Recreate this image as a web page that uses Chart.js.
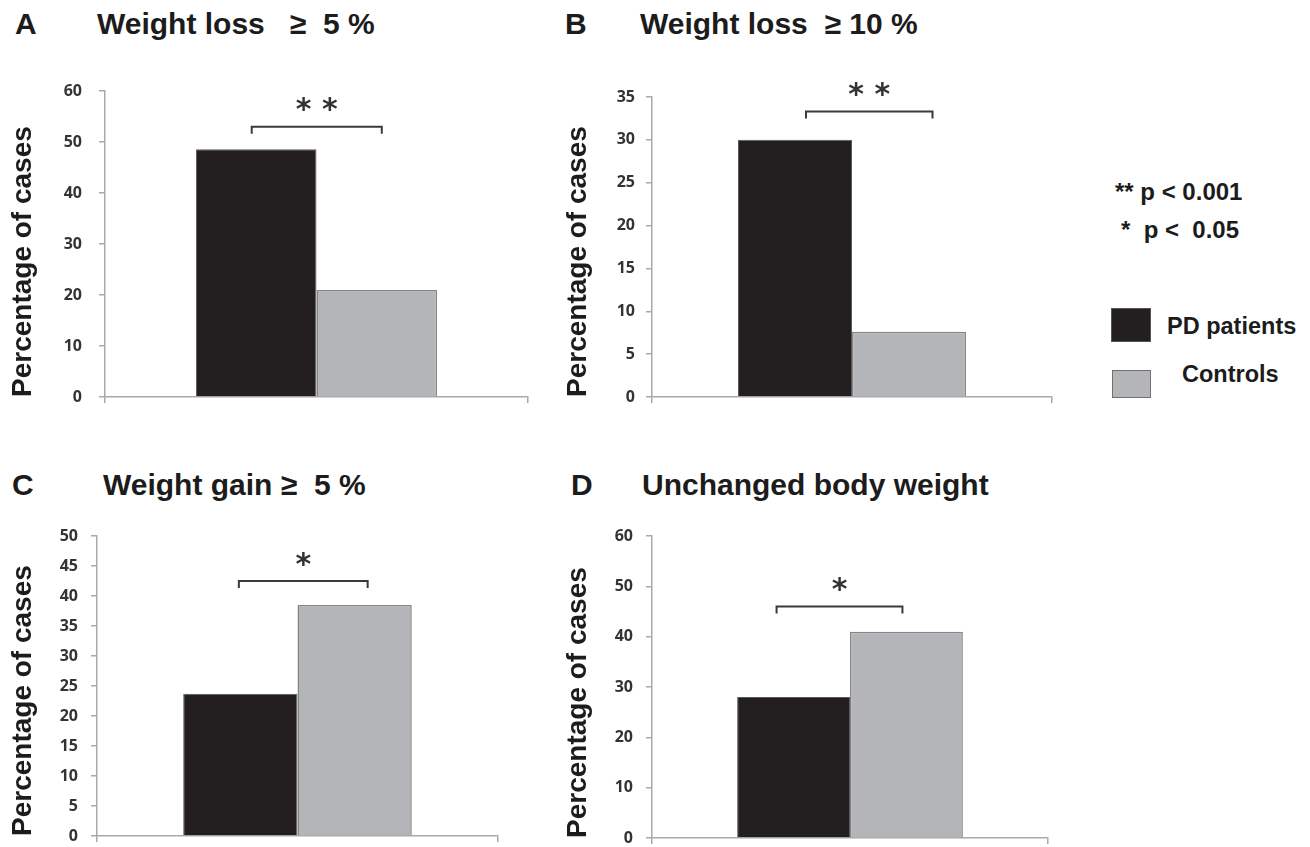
<!DOCTYPE html>
<html>
<head>
<meta charset="utf-8">
<script src="https://cdn.jsdelivr.net/npm/chart.js@4.4.1/dist/chart.umd.min.js"></script>
<style>
  body { margin: 0; background: #fff; width: 1310px; height: 847px; overflow: hidden; position: relative; }
  canvas { position: absolute; }
  .txt { position: absolute; white-space: pre; font-family: "Liberation Sans", Arial, sans-serif; font-weight: bold; color: #1c1c1c; line-height: 1; }
  .box { position: absolute; box-sizing: border-box; }
</style>
</head>
<body>

<div class="txt" style="left:15px;top:9px;font-size:30px">A</div>
<div class="txt" id="t0" style="left:97px;top:9px;font-size:30px"></div>
<div class="txt" style="left:565px;top:9px;font-size:30px">B</div>
<div class="txt" id="t1" style="left:640px;top:9px;font-size:30px"></div>
<div class="txt" style="left:12px;top:470px;font-size:30px">C</div>
<div class="txt" id="t2" style="left:103px;top:470px;font-size:30px"></div>
<div class="txt" style="left:571px;top:470px;font-size:30px">D</div>
<div class="txt" id="t3" style="left:642px;top:470px;font-size:30px"></div>

<div class="txt" style="left:1115px;top:180px;font-size:24px">** p &lt; 0.001</div>
<div class="txt" style="left:1121px;top:218px;font-size:24px">*  p &lt;  0.05</div>

<div class="box" style="left:1111px;top:308px;width:40px;height:34px;background:#231f20;border:1px solid #555"></div>
<div class="txt" id="lg0" style="left:1167px;top:315px;font-size:23.5px"></div>
<div class="box" style="left:1112px;top:370px;width:39px;height:28px;background:#b4b5b8;border:1.5px solid #707070"></div>
<div class="txt" id="lg1" style="left:1182px;top:363px;font-size:23.5px"></div>

<canvas id="c0"></canvas>
<canvas id="c1"></canvas>
<canvas id="c2"></canvas>
<canvas id="c3"></canvas>

<script>
// ---- data ----
var panelTitles = ['Weight loss   \u2265  5 %', 'Weight loss  \u2265 10 %', 'Weight gain \u2265  5 %', 'Unchanged body weight'];
var seriesNames = ['PD patients', 'Controls'];
var pdPatients = [48.6, 30, 23.7, 28];
var controls = [21, 7.6, 38.5, 41];
var yMax = [60, 35, 50, 60];
var yStep = [10, 5, 5, 10];
var sigLabels = ['* *', '* *', '*', '*'];
var bracketLevel = [53, 33.3, 42.5, 46];

// ---- layout (page px) ----
var canvasLeft = [0, 555, 0, 555];
var plotRect = [ // left, right, top, bottom
    [105, 528, 91, 397],
    [652, 1052, 97, 397],
    [97, 498, 536, 836],
    [652, 1048, 536, 838]
];
var tickPad = [17, 11, 13, 13];
var bracketShift = [[-4.5, 5], [11, 23.5], [-1.5, 13], [-17, -4]];

var axisGray = '#a9a9a9';
// paddings big enough to hold the y tick label overflow, so the plot box lands where asked
var padTop = 32, padRight = 12, padBottom = 24, xAxisH = 8;

panelTitles.forEach(function (t, i) {
    document.getElementById('t' + i).textContent = t;
});
document.getElementById('lg0').textContent = seriesNames[0];
document.getElementById('lg1').textContent = seriesNames[1];

var bracketPlugin = {
    id: 'bracket',
    afterDatasetsDraw: function (chart, args, opts) {
        var i = opts.panel;
        var ctx = chart.ctx;
        var b0 = chart.getDatasetMeta(0).data[0];
        var b1 = chart.getDatasetMeta(1).data[0];
        var x0 = b0.x + bracketShift[i][0];
        var x1 = b1.x + bracketShift[i][1];
        var y = chart.scales.y.getPixelForValue(bracketLevel[i]);
        ctx.save();
        ctx.strokeStyle = '#3a3a3a';
        ctx.lineWidth = 2;
        ctx.beginPath();
        ctx.moveTo(x0, y + 7);
        ctx.lineTo(x0, y);
        ctx.lineTo(x1, y);
        ctx.lineTo(x1, y + 7);
        ctx.stroke();
        ctx.fillStyle = '#333';
        ctx.font = 'bold 30px "DejaVu Sans"';
        ctx.textAlign = 'center';
        ctx.textBaseline = 'alphabetic';
        var m = ctx.measureText('*');
        var cy = y - 22;
        ctx.fillText(sigLabels[i], (x0 + x1) / 2, cy + (m.actualBoundingBoxAscent - m.actualBoundingBoxDescent) / 2);
        ctx.restore();
    }
};

for (var i = 0; i < 4; i++) {
    var r = plotRect[i];
    var cv = document.getElementById('c' + i);
    var w = r[1] - canvasLeft[i] + padRight;
    var h = (r[3] - r[2]) + padTop + xAxisH + padBottom;
    cv.width = w;
    cv.height = h;
    cv.style.left = canvasLeft[i] + 'px';
    cv.style.top = (r[2] - padTop) + 'px';
    cv.style.width = w + 'px';
    cv.style.height = h + 'px';

    (function (i, yw) {
        new Chart(cv, {
            type: 'bar',
            data: {
                labels: [''],
                datasets: [{
                    label: seriesNames[0],
                    data: [pdPatients[i]],
                    backgroundColor: '#231f20',
                    borderColor: '#5a5a5a',
                    borderWidth: 1,
                    categoryPercentage: 0.57,
                    barPercentage: 1
                }, {
                    label: seriesNames[1],
                    data: [controls[i]],
                    backgroundColor: '#b4b5b8',
                    borderColor: '#858585',
                    borderWidth: 1.5,
                    categoryPercentage: 0.57,
                    barPercentage: 1
                }]
            },
            options: {
                responsive: false,
                animation: false,
                devicePixelRatio: 1,
                layout: { padding: { top: padTop, right: padRight, bottom: padBottom, left: 0 } },
                plugins: {
                    legend: { display: false },
                    tooltip: { enabled: false },
                    bracket: { panel: i }
                },
                scales: {
                    x: {
                        ticks: { display: false },
                        grid: { drawOnChartArea: false, tickLength: 6, color: axisGray, lineWidth: 1.5 },
                        border: { color: axisGray, width: 1.5 },
                        afterFit: function (s) { s.height = xAxisH; }
                    },
                    y: {
                        min: 0,
                        max: yMax[i],
                        ticks: {
                            stepSize: yStep[i],
                            padding: tickPad[i],
                            color: '#333333',
                            font: { family: '"Open Sans"', size: 16, weight: 'bold' }
                        },
                        grid: { drawOnChartArea: false, tickLength: 6, color: axisGray, lineWidth: 1.5 },
                        border: { color: axisGray, width: 1.5 },
                        title: {
                            display: true,
                            text: 'Percentage of cases',
                            align: 'start',
                            color: '#1c1c1c',
                            padding: { top: 6, bottom: 0 },
                            font: { family: '"Liberation Sans"', size: 28, weight: 'bold' }
                        },
                        afterFit: function (s) { s.width = yw; }
                    }
                }
            },
            plugins: [bracketPlugin]
        });
    })(i, r[0] - canvasLeft[i]);
}
</script>
</body>
</html>
